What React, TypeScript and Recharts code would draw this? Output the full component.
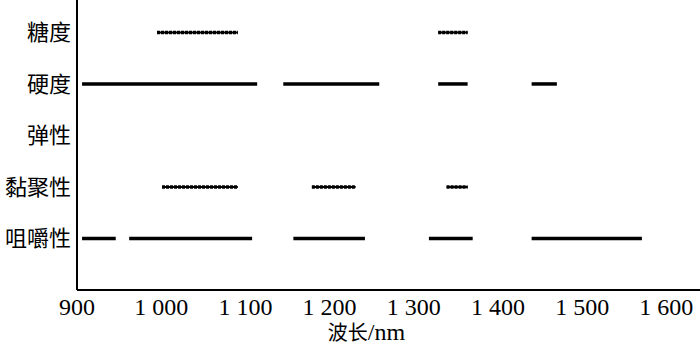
import { LineChart, Line, XAxis, YAxis } from "recharts";

// wavelength ranges (nm) selected for each texture attribute
const sugar = [
  [995, 1091],
  [1329, 1364],
];
const hardness = [
  [906, 1114],
  [1145, 1259],
  [1329, 1364],
  [1440, 1470],
];
const elasticity: number[][] = [];
const cohesion = [
  [1001, 1091],
  [1179, 1231],
  [1339, 1364],
];
const chewiness = [
  [906, 946],
  [962, 1108],
  [1157, 1242],
  [1318, 1370],
  [1440, 1571],
];

const categories = ["咀嚼性", "黏聚性", "弹性", "硬度", "糖度"];
const xTicks = [900, 1000, 1100, 1200, 1300, 1400, 1500, 1600];

const rows = [
  { name: "糖度", segs: sugar, dotted: true },
  { name: "硬度", segs: hardness, dotted: false },
  { name: "弹性", segs: elasticity, dotted: false },
  { name: "黏聚性", segs: cohesion, dotted: true },
  { name: "咀嚼性", segs: chewiness, dotted: false },
];

const serif = "'Liberation Serif', 'Times New Roman', serif";
const cjk = "'Noto Sans CJK SC', sans-serif";

const fmtNm = (v: number) =>
  v >= 1000 ? `${Math.floor(v / 1000)} ${String(v % 1000).padStart(3, "0")}` : `${v}`;

function XTitle({ viewBox }: any) {
  const cx = viewBox.x + viewBox.width / 2 - 22;
  return (
    <text x={cx} y={340} textAnchor="middle" fill="#000">
      <tspan fontFamily={cjk} fontSize={20}>波长</tspan>
      <tspan fontFamily={serif} fontSize={24}>/nm</tspan>
    </text>
  );
}

export default function App() {
  const lines: any[] = [];
  rows.forEach((r) => {
    const y = categories.indexOf(r.name) + 1;
    r.segs.forEach(([a, b], i) => {
      const pts = [
        { x: a, y },
        { x: b, y },
      ];
      // dotted rows: thin solid core + dashed outer = beaded look
      if (r.dotted) {
        lines.push(
          <Line
            key={`${r.name}-${i}-core`}
            data={pts}
            dataKey="y"
            stroke="#000"
            strokeWidth={2}
            dot={false}
            activeDot={false}
            isAnimationActive={false}
          />
        );
      }
      lines.push(
        <Line
          key={`${r.name}-${i}`}
          data={pts}
          dataKey="y"
          stroke="#000"
          strokeWidth={3.5}
          strokeDasharray={r.dotted ? "3 1" : undefined}
          dot={false}
          activeDot={false}
          isAnimationActive={false}
        />
      );
    });
  });

  return (
    <div style={{ position: "absolute", left: 0, top: 0, background: "#fff" }}>
      <LineChart width={700} height={346} margin={{ top: 0, right: 0, left: 0, bottom: 0 }}>
        <XAxis
          type="number"
          dataKey="x"
          domain={[900, 1640]}
          ticks={xTicks}
          allowDataOverflow
          tickFormatter={fmtNm}
          tickLine={false}
          tickSize={0}
          axisLine={{ stroke: "#000", strokeWidth: 2 }}
          tick={{ fill: "#000", fontSize: 24, fontFamily: serif }}
          tickMargin={8}
          height={56}
          label={<XTitle />}
        />
        <YAxis
          type="number"
          dataKey="y"
          domain={[0, 5.63]}
          ticks={[1, 2, 3, 4, 5]}
          tickFormatter={(v: number) => categories[v - 1]}
          tickLine={false}
          tickSize={0}
          axisLine={{ stroke: "#000", strokeWidth: 2 }}
          tick={{ fill: "#000", fontSize: 22, fontFamily: cjk }}
          tickMargin={6}
          width={77}
        />
        {lines}
      </LineChart>
    </div>
  );
}
